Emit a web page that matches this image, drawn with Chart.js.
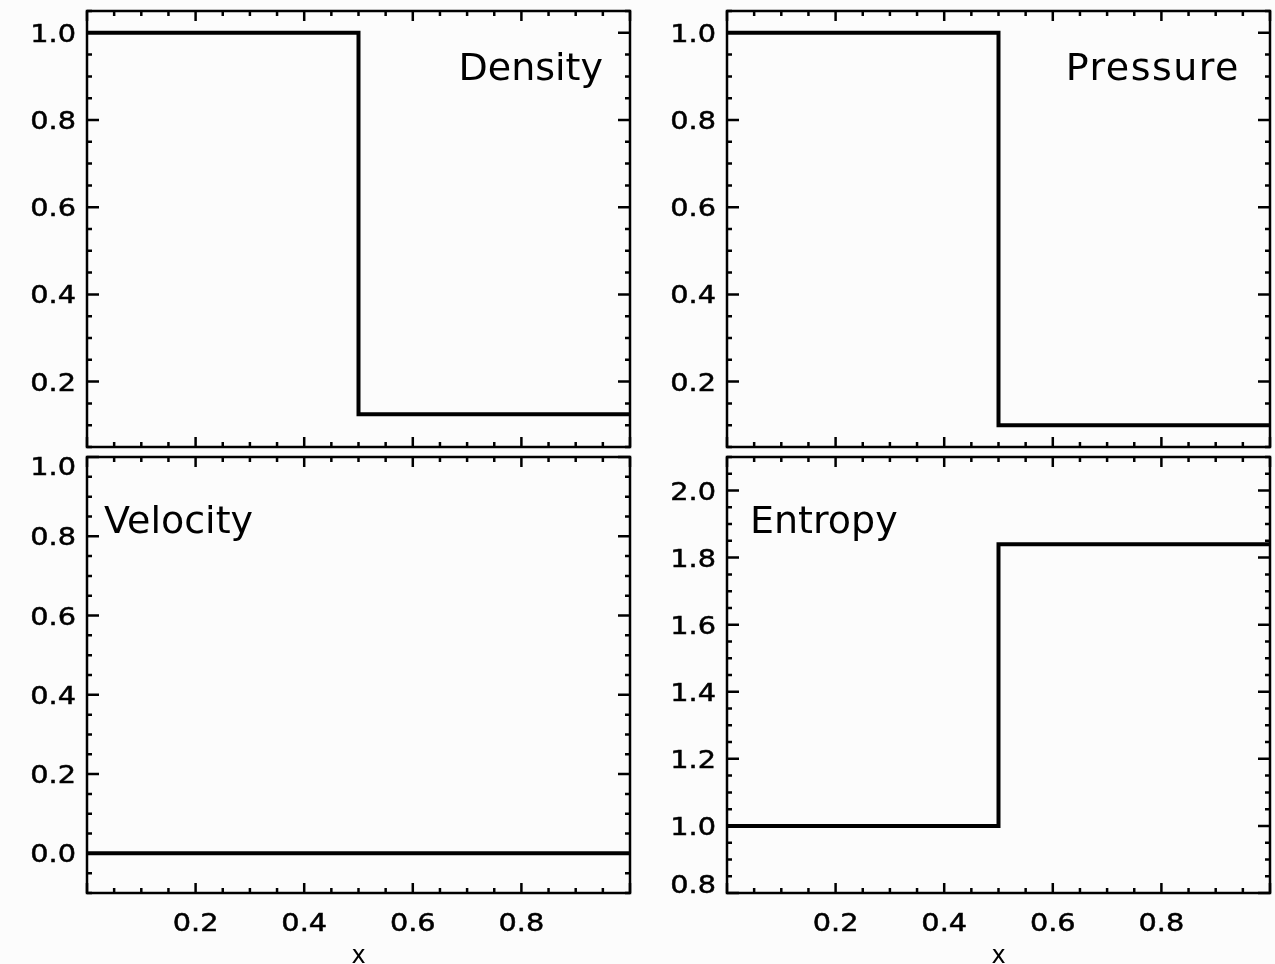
<!DOCTYPE html>
<html>
<head>
<meta charset="utf-8">
<script src="https://cdn.jsdelivr.net/npm/chart.js@4.4.0/dist/chart.umd.min.js"></script>
<style>
  body { margin: 0; background: #fcfcfc; }
  #wrap { position: relative; width: 1275px; height: 964px; overflow: hidden; background: #fcfcfc; }
  canvas { position: absolute; }
</style>
</head>
<body>
<div id="wrap">
  <canvas id="cDensity" width="637" height="452" style="left:0px;top:0px"></canvas>
  <canvas id="cPressure" width="638" height="452" style="left:637px;top:0px"></canvas>
  <canvas id="cVelocity" width="637" height="512" style="left:0px;top:452px"></canvas>
  <canvas id="cEntropy" width="638" height="512" style="left:637px;top:452px"></canvas>
</div>
<script>
// shock tube state, step at x = 0.5
var xEdges   = [0.0, 0.5, 0.5, 1.0];
var density  = [1.0, 1.0, 0.125, 0.125];
var pressure = [1.0, 1.0, 0.1, 0.1];
var velocity = [0.0, 0.0, 0.0, 0.0];
var entropy  = [1.0, 1.0, 1.84, 1.84];

var xTickLabels   = [0.2, 0.4, 0.6, 0.8];
var yTicksUnit    = [0.2, 0.4, 0.6, 0.8, 1.0];
var yTicksVel     = [0.0, 0.2, 0.4, 0.6, 0.8, 1.0];
var yTicksEntropy = [0.8, 1.0, 1.2, 1.4, 1.6, 1.8, 2.0];

var TICK_FONT = '25px "DejaVu Sans"';
var LABEL_FONT = '38px "DejaVu Sans"';

function near(v, step) {
  return Math.abs(v / step - Math.round(v / step)) < 1e-6;
}

// tick text is a bit wider than DejaVu, stretch it sideways
function wideText(ctx, s, x, y) {
  ctx.save();
  ctx.translate(x, y);
  ctx.scale(1.15, 1);
  ctx.fillText(s, 0, 0);
  ctx.lineWidth = 0.5;
  ctx.strokeText(s, 0, 0);
  ctx.restore();
}

// IDL style frame: inward ticks on all four sides, labels kept inside the box
var idlFrame = {
  id: 'idlFrame',
  afterDraw: function(chart, args, o) {
    var ctx = chart.ctx, a = chart.chartArea;
    var xs = chart.scales.x, ys = chart.scales.y;
    ctx.save();
    ctx.strokeStyle = '#000';
    ctx.fillStyle = '#000';
    ctx.lineWidth = 2.5;
    ctx.strokeRect(a.left, a.top, a.right - a.left, a.bottom - a.top);

    ctx.beginPath();
    var i, v, p, len;
    for (i = Math.ceil(xs.min / 0.05 - 1e-6); i * 0.05 <= xs.max + 1e-9; i++) {
      v = i * 0.05;
      p = xs.getPixelForValue(v);
      len = near(v, 0.2) ? 10 : 5;
      ctx.moveTo(p, a.bottom); ctx.lineTo(p, a.bottom - len);
      ctx.moveTo(p, a.top); ctx.lineTo(p, a.top + len);
    }
    for (i = Math.ceil(ys.min / 0.05 - 1e-6); i * 0.05 <= ys.max + 1e-9; i++) {
      v = i * 0.05;
      p = ys.getPixelForValue(v);
      len = near(v, 0.2) ? 12 : 5;
      ctx.moveTo(a.left, p); ctx.lineTo(a.left + len, p);
      ctx.moveTo(a.right, p); ctx.lineTo(a.right - len, p);
    }
    ctx.stroke();

    // y tick labels
    ctx.font = TICK_FONT;
    ctx.textAlign = 'right';
    ctx.textBaseline = 'alphabetic';
    var half = 9;
    o.yTicks.forEach(function(t) {
      var c = ys.getPixelForValue(t);
      c = Math.max(a.top + half, Math.min(a.bottom - half, c));
      wideText(ctx, t.toFixed(1), a.left - 11, c + half);
    });

    // x tick labels and title on the lower panels
    if (o.xLabels) {
      ctx.textAlign = 'center';
      xTickLabels.forEach(function(t) {
        wideText(ctx, t.toFixed(1), xs.getPixelForValue(t), a.bottom + 38);
      });
      ctx.font = '24px "DejaVu Sans"';
      ctx.fillText('x', (a.left + a.right) / 2, a.bottom + 70);
    }

    // panel name
    ctx.font = LABEL_FONT;
    ctx.letterSpacing = o.spacing || '0px';
    ctx.textAlign = o.align;
    ctx.fillText(o.label, o.align === 'right' ? a.right - o.dx : a.left + o.dx, a.top + o.dy);
    ctx.restore();
  }
};

function makePanel(id, values, yMin, yMax, yTicks, pad, frame) {
  new Chart(document.getElementById(id), {
    type: 'line',
    data: {
      datasets: [{
        data: xEdges.map(function(x, i) { return { x: x, y: values[i] }; }),
        borderColor: '#000',
        borderWidth: 4,
        pointRadius: 0,
        tension: 0,
        borderJoinStyle: 'miter',
        fill: false
      }]
    },
    options: {
      responsive: false,
      animation: false,
      layout: { padding: pad },
      scales: {
        x: { type: 'linear', min: 0, max: 1, display: false },
        y: { type: 'linear', min: yMin, max: yMax, display: false }
      },
      plugins: {
        legend: { display: false },
        tooltip: { enabled: false },
        idlFrame: Object.assign({ yTicks: yTicks }, frame)
      }
    },
    plugins: [idlFrame]
  });
}

makePanel('cDensity', density, 0.05, 1.05, yTicksUnit,
  { left: 87, top: 11, right: 7, bottom: 5 },
  { label: 'Density', align: 'right', dx: 27, dy: 69, xLabels: false });
makePanel('cPressure', pressure, 0.05, 1.05, yTicksUnit,
  { left: 90, top: 11, right: 5, bottom: 5 },
  { label: 'Pressure', align: 'right', dx: 30, dy: 69, xLabels: false, spacing: '1.5px' });
makePanel('cVelocity', velocity, -0.1, 1.0, yTicksVel,
  { left: 87, top: 5, right: 7, bottom: 71 },
  { label: 'Velocity', align: 'left', dx: 17, dy: 76, xLabels: true });
makePanel('cEntropy', entropy, 0.8, 2.1, yTicksEntropy,
  { left: 90, top: 5, right: 5, bottom: 71 },
  { label: 'Entropy', align: 'left', dx: 23, dy: 76, xLabels: true });
</script>
</body>
</html>
